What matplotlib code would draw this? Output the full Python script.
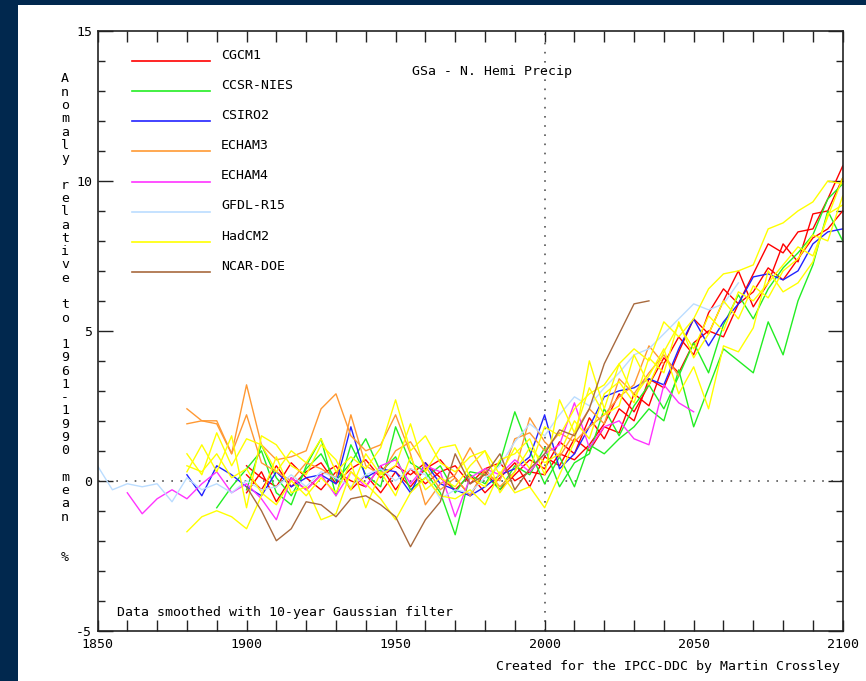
import numpy as np
import matplotlib
matplotlib.use("Agg")
import matplotlib.pyplot as plt
from matplotlib.patches import Rectangle

plt.rcParams["axes.unicode_minus"] = False

# model names and line colours, in legend order
models = ["CGCM1", "CCSR-NIES", "CSIRO2", "ECHAM3", "ECHAM4", "GFDL-R15", "HadCM2", "NCAR-DOE"]
colors = ["#ff0000", "#22ee22", "#2222ff", "#ff9933", "#ff33ff", "#bbddff", "#ffff00", "#a86a3e"]

# smoothed N. hemisphere precipitation anomaly (%), sampled every 5 years
cgcm1_a = [0.2, -0.3, 0.5, -0.2, 0.3, 0.6, -0.1, 0.4, 0.7, 0.1, 0.5, 0.2, 0.6, 0.1, -0.3, 0.2, -0.4, 0.1, 0.6, -0.2,
           0.8, 0.5, 1.4, 1.0, 1.8, 1.6, 2.9, 2.5, 3.9, 4.8, 4.2, 5.6, 6.4, 5.9, 6.9, 7.9, 7.6, 8.3, 8.4, 9.4, 10.5]
cgcm1_b = [-0.4, 0.3, -0.7, 0.1, -0.3, 0.2, 0.5, -0.3, 0.2, -0.4, 0.3, -0.2, 0.4, 0.7, 0.1, -0.5, 0.3, -0.3, 0.2, 0.7,
           0.4, 1.3, 0.9, 2.1, 1.4, 2.4, 2.0, 3.4, 3.1, 4.3, 5.4, 4.9, 6.0, 7.0, 5.8, 6.6, 7.9, 7.3, 8.9, 9.0, 10.1]
cgcm1_c = [0.5, 0.1, -0.2, 0.6, 0.1, -0.3, 0.3, 0.0, -0.2, 0.5, -0.3, 0.4, -0.1, 0.3, 0.5, -0.1, 0.4, 0.6, 0.0, 0.3,
           0.2, 0.9, 0.7, 1.2, 1.9, 2.9, 2.3, 3.2, 4.1, 3.6, 4.6, 5.0, 4.8, 5.9, 6.3, 7.1, 6.7, 7.4, 8.1, 8.4, 9.0]
ccsr_a = [-0.9, -0.2, 0.4, 1.0, -0.4, -0.8, 0.5, 1.4, -0.5, 1.2, 0.2, -0.2, 1.8, 0.6, 0.3, -0.4, -1.8, 0.2, -0.1, 0.6,
          2.3, 1.0, -0.1, 0.8, -0.2, 1.2, 0.9, 1.4, 1.8, 2.4, 2.0, 3.7, 1.8, 3.1, 4.4, 4.0, 3.6, 5.3, 4.2, 6.0, 7.2, 9.0, 8.0]
ccsr_b = [-0.3, 1.2, 0.1, -0.5, 0.4, 0.9, 0.0, 0.6, 1.4, 0.3, 0.8, -0.3, 0.1, 0.5, -0.4, 0.3, 0.2, -0.3, 0.5, 0.2,
          1.1, -0.2, 0.6, 0.9, 2.4, 1.5, 2.5, 3.2, 2.4, 3.5, 4.6, 3.6, 5.2, 6.2, 5.4, 6.4, 7.1, 7.6, 8.2, 9.4, 9.9]
csiro2 = [0.2, -0.5, 0.5, 0.2, -0.2, -0.5, 0.3, -0.2, 0.1, 0.2, -0.1, 1.8, 0.1, 0.4, 0.3, -0.4, 0.6, -0.1, -0.3, -0.5,
          -0.2, 0.2, 0.4, 0.8, 2.2, 0.4, 0.9, 1.8, 2.8, 3.0, 3.1, 3.4, 3.2, 4.4, 5.4, 4.5, 5.3, 5.9, 6.8, 6.9, 6.7, 7.0,
          7.9, 8.3, 8.4]
echam3_a = [2.4, 2.0, 2.0, 0.9, 3.2, 1.2, 0.7, 0.8, 1.0, 2.4, 2.9, 1.5, 1.0, 1.2, 2.2, 0.9, -0.8, -0.1, 0.2, 1.1,
            0.2, 0.0, 1.4, 1.6, 1.0, 1.6, 1.3, 1.8, 2.2, 2.8, 3.2, 4.5, 3.9]
echam3_b = [1.9, 2.0, 1.9, 0.9, 2.2, 0.6, 0.3, 0.0, 0.6, 0.4, 0.1, 2.2, 0.5, 0.2, 1.0, 1.3, 0.5, -0.3, 0.1, -0.5,
            0.4, -0.2, 0.3, 2.1, 1.3, 0.8, 1.6, 2.4, 1.9, 3.4, 2.9, 3.6, 4.2, 3.5]
echam4 = [-0.4, -1.1, -0.6, -0.3, -0.6, -0.1, 0.3, -0.4, -0.1, -0.6, -1.3, 0.1, -0.3, 0.2, -0.5, 0.3, -0.2, 0.5, 0.7,
          -0.1, 0.5, 0.3, -1.2, 0.1, 0.4, 0.2, 0.7, 0.3, 0.9, 1.2, 2.6, 1.1, 1.8, 2.0, 1.4, 1.2, 3.2, 2.6, 2.3]
gfdl = [0.5, -0.3, -0.1, -0.2, -0.1, -0.7, 0.1, -0.3, -0.1, -0.4, 0.0, -0.3, -0.2, 0.2, -0.2, 0.3, 0.1, -0.2, 0.2, 0.4,
        0.0, 0.4, 0.2, -0.6, -0.3, -0.4, 0.1, 0.5, 1.3, 1.9, 1.5, 2.2, 2.8, 2.5, 3.1, 3.6, 4.2, 4.4, 4.9, 5.4, 5.9, 5.7,
        5.9, 6.6]
hadcm2_a = [0.9, 0.2, 1.6, 0.5, 1.4, 1.2, 0.3, 1.0, 0.6, 1.4, 0.3, 0.8, 0.4, 1.1, 2.7, 1.0, 1.5, 0.6, 0.3, 0.8,
            1.0, 0.2, 1.1, 0.4, 1.8, 1.5, 2.4, 2.9, 3.2, 3.9, 4.4, 4.0, 5.3, 4.8, 5.4, 6.4, 6.9, 7.0, 7.2, 8.4, 8.6, 9.0,
            9.3, 10.0, 9.9]
hadcm2_b = [-1.7, -1.2, -1.0, -1.2, -1.6, -0.5, 0.8, -0.4, -0.2, -1.3, -1.1, 0.3, -0.1, -0.6, -1.3, -0.4, 0.1, -0.5,
            -0.6, -0.3, -0.8, 0.3, -0.4, -0.2, -0.9, 0.2, 1.3, 4.0, 2.4, 3.9, 2.8, 3.5, 4.4, 2.9, 3.8, 2.4, 4.5, 4.3, 5.1,
            7.0, 6.3, 6.6, 7.3, 8.9, 9.2]
hadcm2_c = [0.3, 1.2, 0.3, 1.5, -0.9, 1.5, 1.2, 0.5, 0.2, 1.2, 0.7, -0.3, 0.9, 0.2, 0.5, 1.9, 0.3, 1.1, 1.2, 0.1,
            -0.2, 0.7, 0.9, 1.4, 0.2, 2.7, 1.6, 3.1, 2.2, 2.5, 4.2, 3.2, 4.3, 5.2, 4.4, 5.5, 5.0, 6.3, 6.0, 6.6, 7.2, 7.8,
            7.5, 8.8, 10.1]
hadcm2_d = [0.5, 0.3, 0.9, 0.1, 0.4, -0.4, -0.8, 0.0, -0.5, 0.1, -0.4, 0.6, -0.9, 0.3, -0.5, 0.8, -0.3, 0.1, -0.2,
            0.5, 1.0, -0.4, 0.3, 1.1, 0.6, 0.9, 2.0, 1.4, 2.9, 3.3, 2.6, 4.1, 3.6, 5.3, 4.1, 4.9, 6.0, 5.4, 6.5, 6.1, 7.0,
            7.4, 8.2, 8.0, 9.5]
ncar = [-0.2, -1.0, -2.0, -1.6, -0.7, -0.8, -1.2, -0.6, -0.5, -0.8, -1.2, -2.2, -1.3, -0.7, 0.9, -0.1, 0.2, 0.9, -0.3,
        0.4, 0.9, 1.7, 1.5, 2.4, 3.9, 4.9, 5.9, 6.0]

# (model index, first year, values)
runs = [
    (0, 1900, cgcm1_a), (0, 1900, cgcm1_b), (0, 1900, cgcm1_c),
    (1, 1890, ccsr_a), (1, 1900, ccsr_b),
    (2, 1880, csiro2),
    (3, 1880, echam3_a), (3, 1880, echam3_b),
    (4, 1860, echam4),
    (5, 1850, gfdl),
    (6, 1880, hadcm2_a), (6, 1880, hadcm2_b), (6, 1880, hadcm2_c), (6, 1880, hadcm2_d),
    (7, 1900, ncar),
]

W, H = 866, 681
mono = "DejaVu Sans Mono"
ink = "#222222"


def fx(px):
    return px / W


def fy(py):
    return 1 - py / H


fig = plt.figure(figsize=(W / 100, H / 100), dpi=100, facecolor="#01284e")
fig.patches.append(Rectangle((fx(18), 0), 1 - fx(18), fy(5), transform=fig.transFigure,
                             facecolor="white", edgecolor="none", zorder=-10))

ax = fig.add_axes([fx(97.5), fy(630.7), fx(842.7) - fx(97.5), fy(31) - fy(630.7)])
ax.set_zorder(5)
ax.set_xlim(1850, 2100)
ax.set_ylim(-5, 15)

ax.axhline(0, color="#555555", lw=1.2, dashes=(1, 4.5), zorder=1)
ax.axvline(2000, color="#555555", lw=1.2, dashes=(1, 4.5), zorder=1)

for k, start, vals in runs:
    yrs = start + 5 * np.arange(len(vals))
    ax.plot(yrs, vals, color=colors[k], lw=1.0, zorder=2)

# legend drawn by hand, one row per model
for i, (name, c) in enumerate(zip(models, colors)):
    yy = 0.950 - i * 0.0503
    ax.plot([0.0463, 0.151], [yy, yy], color=c, lw=1.2, transform=ax.transAxes)
    ax.text(0.1657, yy + 0.004, name, transform=ax.transAxes, family=mono, fontsize=9.5,
            va="baseline", ha="left", color="black")

ax.text(fx(412), fy(75), "GSa - N. Hemi Precip", transform=fig.transFigure, family=mono,
        fontsize=9.5, va="baseline", ha="left")
ax.text(fx(117), fy(616), "Data smoothed with 10-year Gaussian filter", transform=fig.transFigure,
        family=mono, fontsize=9.5, va="baseline", ha="left")
fig.text(fx(840), fy(670), "Created for the IPCC-DDC by Martin Crossley", family=mono,
         fontsize=9.5, va="baseline", ha="right")

# vertical axis title, one upright character per row
ylab = "Anomaly relative to 1961-1990 mean  %"
for i, ch in enumerate(ylab):
    if ch != " ":
        fig.text(fx(65), fy(79 + i * 13.28), ch, family=mono, fontsize=9.5, ha="center", va="center")

ax.set_xticks(np.arange(1850, 2101, 50))
ax.set_xticks(np.arange(1850, 2101, 10), minor=True)
ax.set_yticks(np.arange(-5, 16, 5))
ax.set_yticks(np.arange(-5, 16, 1), minor=True)
ax.tick_params(axis="x", which="both", direction="in", top=True, length=7.9, width=1.0, color=ink)
ax.tick_params(axis="y", which="major", direction="in", right=True, length=10.8, width=1.0, color=ink)
ax.tick_params(axis="y", which="minor", direction="in", right=True, length=5.0, width=1.0, color=ink)
ax.tick_params(axis="x", which="major", pad=5)
ax.tick_params(axis="y", which="major", pad=4)
for lab in ax.get_xticklabels() + ax.get_yticklabels():
    lab.set_family(mono)
    lab.set_fontsize(9.5)
for s in ax.spines.values():
    s.set_color(ink)
    s.set_linewidth(1.2)

fig.savefig("out.png", dpi=100, facecolor=fig.get_facecolor())
